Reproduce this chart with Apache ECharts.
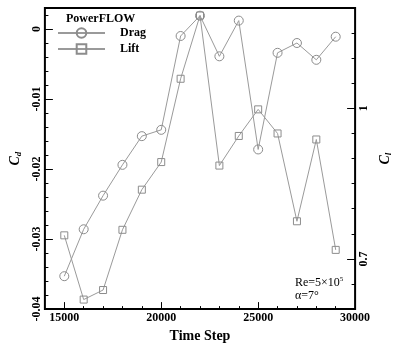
<!DOCTYPE html>
<html><head><meta charset="utf-8">
<script src="https://cdn.jsdelivr.net/npm/echarts@6/dist/echarts.min.js"></script>
<style>html,body{margin:0;padding:0;background:#fff}#c{width:401px;height:348px}</style>
</head><body><div id="c"></div>
<script>
// ---- data ----
const timeSteps = [15000,16000,17000,18000,19000,20000,21000,22000,23000,24000,25000,26000,27000,28000,29000];
const dragCd = [-0.0353,-0.0286,-0.0238,-0.0194,-0.0153,-0.0144,-0.0010,0.0019,-0.0039,0.0012,-0.0172,-0.0034,-0.0020,-0.0044,-0.0011];
const liftCl = [0.747,0.619,0.638,0.758,0.838,0.893,1.059,1.185,0.886,0.945,0.998,0.950,0.775,0.938,0.718];
// ---- tick labels ----
const xLabelTicks = [15000,20000,25000,30000];
const xMinorTicks = [16000,17000,18000,19000,21000,22000,23000,24000,26000,27000,28000,29000];
const cdLabelTicks = [-0.04,-0.03,-0.02,-0.01,0];
const cdMinorTicks = [-0.038,-0.036,-0.034,-0.032,-0.028,-0.026,-0.024,-0.022,-0.018,-0.016,-0.014,-0.012,-0.008,-0.006,-0.004,-0.002,0.002];
const clLabelTicks = [0.7,1];
const clMinorTicks = [0.65,0.75,0.8,0.85,0.9,0.95,1.05,1.1,1.15];
const seriesNames = ['Drag','Lift'];

const FF = '"Liberation Serif","Times New Roman",serif';
const LINE = '#9a9a9a';
const MARK = '#8c8c8c';
const X_MIN = 14000, X_MAX = 30000;
const CD_MIN = -0.04, CD_MAX = 0.003;
const CL_MIN = 0.6, CL_MAX = 1.2;

const lbl = {fontFamily: FF, fontWeight: 'bold', fontSize: 12, color: '#000'};
function tickAxis(extra) {
  return Object.assign({type: 'value', axisLine: {show: false, onZero: false}, splitLine: {show: false}}, extra);
}
const subRich = {
  c: {fontFamily: FF, fontWeight: 'bold', fontStyle: 'italic', fontSize: 14, color: '#000', lineHeight: 16},
  s: {fontFamily: FF, fontWeight: 'bold', fontStyle: 'italic', fontSize: 9, color: '#000', lineHeight: 16, verticalAlign: 'bottom', padding: [4, 0, 0, 0]}
};

const chart = echarts.init(document.getElementById('c'), null, {renderer: 'canvas'});
chart.setOption({
  animation: false,
  backgroundColor: '#fff',
  grid: {left: 37, right: 34, top: 8, bottom: 25, show: true, borderColor: '#000', borderWidth: 2, backgroundColor: 'rgba(0,0,0,0)'},
  title: {text: 'PowerFLOW', left: 66, top: 13, padding: 0, textStyle: {fontFamily: FF, fontWeight: 'bold', fontSize: 12, color: '#000'}},
  legend: {
    orient: 'vertical', left: 57, top: 27, itemWidth: 47, itemHeight: 12, itemGap: 4, padding: 0,
    data: seriesNames,
    textStyle: Object.assign({}, lbl, {padding: [0, 0, 0, 10]})
  },
  xAxis: [
    tickAxis({position: 'bottom', min: X_MIN, max: X_MAX,
      axisTick: {inside: true, length: 3, lineStyle: {color: '#000', width: 1}, customValues: xMinorTicks},
      axisLabel: Object.assign({margin: 3, customValues: xLabelTicks, formatter: v => String(v)}, lbl),
      name: 'Time Step', nameLocation: 'middle', nameGap: 15,
      nameTextStyle: {fontFamily: FF, fontWeight: 'bold', fontSize: 14, color: '#000'}}),
    tickAxis({position: 'bottom', min: X_MIN, max: X_MAX,
      axisTick: {inside: true, length: 7, lineStyle: {color: '#000', width: 1}, customValues: xLabelTicks},
      axisLabel: {show: false}})
  ],
  yAxis: [
    tickAxis({position: 'left', min: CD_MIN, max: CD_MAX,
      axisTick: {inside: true, length: 3.5, lineStyle: {color: '#000', width: 1}, customValues: cdMinorTicks},
      axisLabel: Object.assign({margin: 2, rotate: 90, customValues: cdLabelTicks, formatter: v => String(v)}, lbl),
      name: '{c|C}{s|d}', nameLocation: 'middle', nameGap: 12,
      nameTextStyle: {rich: subRich}}),
    tickAxis({position: 'left', min: CD_MIN, max: CD_MAX,
      axisTick: {inside: true, length: 8, lineStyle: {color: '#000', width: 1}, customValues: cdLabelTicks},
      axisLabel: {show: false}}),
    tickAxis({position: 'right', min: CL_MIN, max: CL_MAX,
      axisTick: {inside: true, length: 3.5, lineStyle: {color: '#000', width: 1}, customValues: clMinorTicks},
      axisLabel: Object.assign({margin: 3, rotate: 90, customValues: clLabelTicks, formatter: v => String(v)}, lbl),
      name: '{c|C}{s|l}', nameLocation: 'middle', nameGap: 8,
      nameTextStyle: {rich: subRich}}),
    tickAxis({position: 'right', min: CL_MIN, max: CL_MAX,
      axisTick: {inside: true, length: 8, lineStyle: {color: '#000', width: 1}, customValues: clLabelTicks},
      axisLabel: {show: false}})
  ],
  graphic: [{
    type: 'text', left: 295, top: 276, silent: true,
    style: {
      text: '{n|Re=5×10}{p|5}\n{n|α=7°}',
      rich: {
        n: {fontFamily: FF, fontSize: 12, color: '#000', lineHeight: 13},
        p: {fontFamily: FF, fontSize: 7, color: '#000', lineHeight: 13, verticalAlign: 'top'}
      }
    }
  }],
  series: [
    {
      name: seriesNames[0], type: 'line', xAxisIndex: 0, yAxisIndex: 0, silent: true,
      data: timeSteps.map((t, i) => [t, dragCd[i]]),
      symbol: 'circle', symbolSize: 9,
      lineStyle: {color: LINE, width: 1},
      itemStyle: {color: 'rgba(0,0,0,0)', borderColor: MARK, borderWidth: 1},
      emphasis: {disabled: true}
    },
    {
      name: seriesNames[1], type: 'line', xAxisIndex: 0, yAxisIndex: 2, silent: true,
      data: timeSteps.map((t, i) => [t, liftCl[i]]),
      symbol: 'rect', symbolSize: 7,
      lineStyle: {color: LINE, width: 1},
      itemStyle: {color: 'rgba(0,0,0,0)', borderColor: MARK, borderWidth: 1},
      emphasis: {disabled: true}
    }
  ]
});
</script>
</body></html>
